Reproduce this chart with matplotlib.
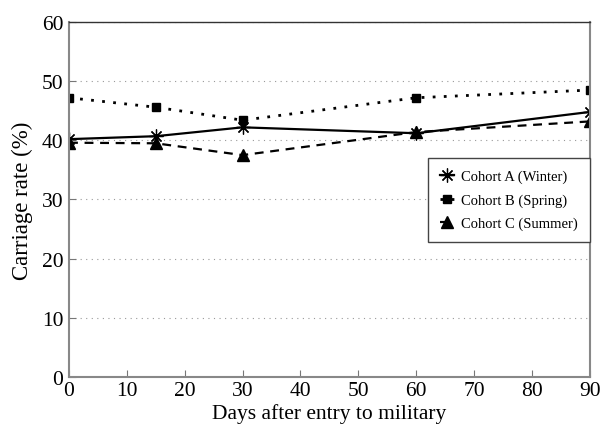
import matplotlib
matplotlib.use('Agg')
from matplotlib import pyplot as plt

days = [0, 15, 30, 60, 90]
cohort_a = [40.2, 40.7, 42.2, 41.2, 44.8]
cohort_b = [47.2, 45.6, 43.4, 47.2, 48.5]
cohort_c = [39.6, 39.5, 37.5, 41.4, 43.2]

labels = ['Cohort A (Winter)', 'Cohort B (Spring)', 'Cohort C (Summer)']

plt.rcParams['font.family'] = ['Liberation Serif', 'DejaVu Serif']

fig = plt.figure(figsize=(6, 4.27), dpi=100)
ax = fig.add_axes([0.115, 0.115, 0.868, 0.831])

ax.plot(days, cohort_a, color='black', linestyle='-', linewidth=1.6,
        marker=(8, 2, 0), markersize=10, markeredgewidth=0.9, label=labels[0])
ax.plot(days, cohort_b, color='black', linestyle=(0, (1, 3)), linewidth=2.0,
        marker='s', markersize=6, label=labels[1])
ax.plot(days, cohort_c, color='black', linestyle=(0, (4, 3)), linewidth=1.6,
        marker='^', markersize=8, label=labels[2])

ax.set_xlim(0, 90)
ax.set_ylim(0, 60)
ax.set_xticks(range(0, 91, 10))
ax.set_yticks(range(0, 61, 10))
ax.tick_params(direction='in', labelsize=15.5, length=5, colors='#777777',
               labelcolor='black')
ax.tick_params(axis='x', pad=3)
ax.tick_params(axis='y', pad=4)
ax.yaxis.grid(True, linestyle=(0, (1, 4)), color='#999999', linewidth=0.8)

for side in ['left', 'right', 'bottom']:
    ax.spines[side].set_color('#888888')
    ax.spines[side].set_linewidth(1.5)
ax.spines['top'].set_color('#333333')
ax.spines['top'].set_linewidth(1.0)

ax.set_xlabel('Days after entry to military', fontsize=15.5, labelpad=2)
ax.set_ylabel('Carriage rate (%)', fontsize=16.5, labelpad=6)

leg = ax.legend(loc='upper right', bbox_to_anchor=(1.0, 0.617), fontsize=10.5,
                handlelength=1.0, handletextpad=0.5, borderpad=0.8,
                labelspacing=0.7, fancybox=False, framealpha=1,
                edgecolor='#444444', borderaxespad=0)
leg.get_frame().set_linewidth(1.0)

fig.savefig('out.png', dpi=100)
